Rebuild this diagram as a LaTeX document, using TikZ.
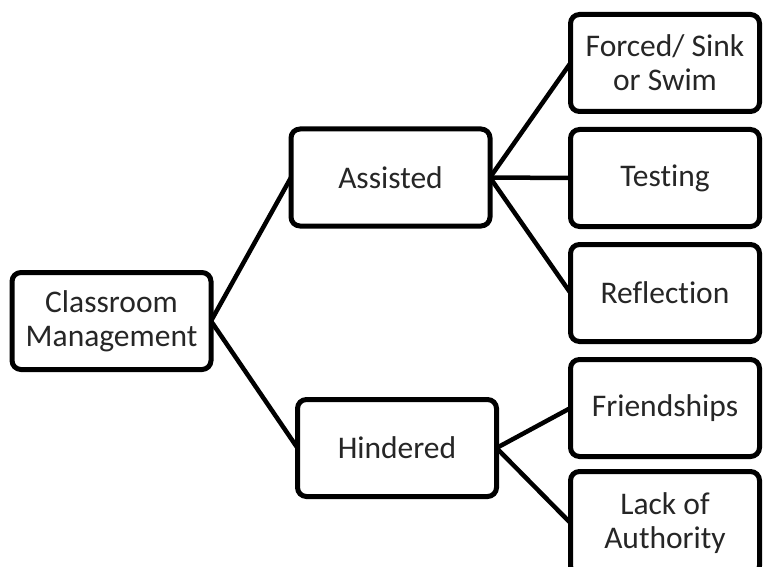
\documentclass[tikz,border=0pt]{standalone}
\usepackage{fontspec}
\setmainfont{Carlito}[Ligatures={NoCommon,NoRequired,NoContextual}]
\usetikzlibrary{positioning}

\begin{document}
\begin{tikzpicture}[
  x=1pt, y=-1pt, node distance=18pt,
  font=\fontsize{31.5}{34}\selectfont,
  box/.style   ={rectangle, draw, rounded corners=9pt, line width=5pt, outer sep=0pt, fill=white,
                 minimum width=199pt, minimum height=97pt, align=center, text=black!85},
  leaf/.style  ={box, minimum width=189pt},
  link/.style  ={line width=4.5pt},
]
  \useasboundingbox (0,0) rectangle (763,567);
  \node[box]                    (cm)       at (111.5,321) {Classroom\\Management};
  \node[box]                    (assisted) at (390.5,177.5) {Assisted};
  \node[box]                    (hindered) at (397,448) {Hindered};
  \node[leaf]                   (forced)   at (665,63) {Forced/ Sink\\or Swim};
  \node[leaf, below=of forced]  (testing)  {Test\kern0pt ing};
  \node[leaf, below=of testing] (reflect)  {Ref\kern0pt lect\kern0pt ion};
  \node[leaf, below=of reflect] (friends)  {Friendships};
  \node[leaf, below=15pt of friends, minimum height=103pt] (lack) {Lack of\\Authority};
  \draw[link] (cm.east) -- (assisted.west); \draw[link] (cm.east) -- (hindered.west);
  \draw[link] (assisted.east) -- (forced.west); \draw[link] (assisted.east) -- (testing.west);
  \draw[link] (assisted.east) -- (reflect.west);
  \draw[link] (hindered.east) -- (friends.west); \draw[link] (hindered.east) -- (lack.west);
\end{tikzpicture}
\end{document}
